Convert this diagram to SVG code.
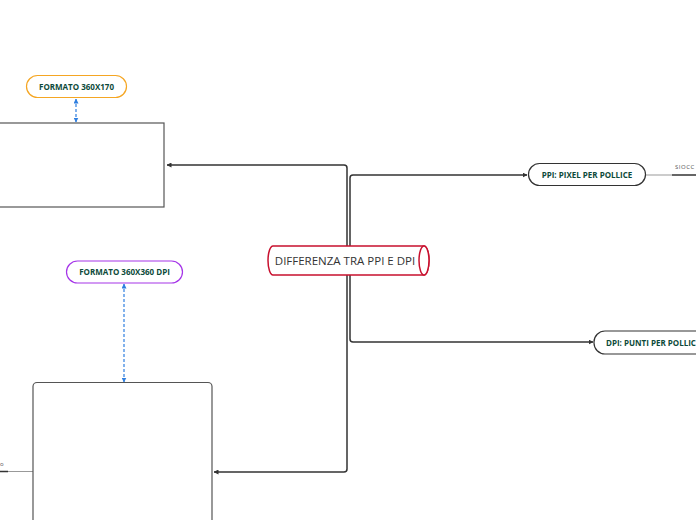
<svg xmlns="http://www.w3.org/2000/svg" width="696" height="520" viewBox="0 0 696 520">
<defs>
<marker id="arr" viewBox="0 0 10 10" refX="9" refY="5" markerWidth="5" markerHeight="5" orient="auto-start-reverse" markerUnits="userSpaceOnUse">
<path d="M0,0 L10,5 L0,10 z" fill="#333"/>
</marker>
<marker id="barr" viewBox="0 0 10 10" refX="9" refY="5" markerWidth="5" markerHeight="5" orient="auto-start-reverse" markerUnits="userSpaceOnUse">
<path d="M0,0 L10,5 L0,10 z" fill="#2f7fe0"/>
</marker>
</defs>
<style>
.conn{fill:none;stroke:#333;stroke-width:1.5}
.dash{fill:none;stroke:#2f7fe0;stroke-width:1.2;stroke-dasharray:3,2}
.lbl{font-family:"Open Sans","Noto Sans",sans-serif;font-weight:bold;font-size:8px;fill:#0d4a3a;text-anchor:middle}
.box{fill:#fff;stroke:#555;stroke-width:1.2}
</style>
<rect width="696" height="520" fill="#fff"/>
<g id="connectors">
<path class="conn" d="M347,260 V168 Q347,165 344,165 H167" marker-end="url(#arr)"/>
<path class="conn" d="M347,260 V469 Q347,472 344,472 H214" marker-end="url(#arr)"/>
<path class="conn" d="M350,260 V178 Q350,175 353,175 H527" marker-end="url(#arr)"/>
<path class="conn" d="M350,260 V339 Q350,342 353,342 H593" marker-end="url(#arr)"/>
<path class="dash" d="M76,99 V122" marker-start="url(#barr)" marker-end="url(#barr)"/>
<path class="dash" d="M124,284 V382" marker-start="url(#barr)" marker-end="url(#barr)"/>
<path d="M646,175 H672" stroke="#999" stroke-width="1" fill="none"/>
<path d="M672,175 H696" stroke="#333" stroke-width="1.5" fill="none"/>
<path d="M8,471.5 H33" stroke="#999" stroke-width="1" fill="none"/>
<path d="M0,471.5 H8" stroke="#333" stroke-width="1.5" fill="none"/>
<text x="675" y="169" font-family="'Open Sans','Noto Sans',sans-serif" font-size="6" fill="#555" letter-spacing="0.5">SIOCC</text>
<text x="0" y="466" font-family="'Open Sans','Noto Sans',sans-serif" font-size="6" fill="#555">o</text>
</g>
<g id="center">
<path d="M273,246 H424 A5,14.5 0 0 1 424,275 H273 A5,14.5 0 0 1 273,246 z" fill="#fff" stroke="#c8102e" stroke-width="1.5"/>
<ellipse cx="424" cy="260.5" rx="5" ry="14.5" fill="#fff" stroke="#c8102e" stroke-width="1.5"/>
<text x="345" y="264.5" font-family="'Open Sans','Noto Sans',sans-serif" font-size="11.5" fill="#333" text-anchor="middle">DIFFERENZA TRA PPI E DPI</text>
</g>
<g id="box-top">
<rect class="box" x="-5" y="123" width="169" height="84"/>
</g>
<g id="formato-360x170">
<rect x="26.5" y="75.5" width="100" height="22" rx="11" fill="#fff" stroke="#f5a623" stroke-width="1.2"/>
<text class="lbl" x="76.5" y="89.5">FORMATO 360X170</text>
</g>
<g id="formato-360x360">
<rect x="66.5" y="261" width="116" height="22" rx="11" fill="#fff" stroke="#a535e8" stroke-width="1.2"/>
<text class="lbl" x="124.5" y="275">FORMATO 360X360 DPI</text>
</g>
<g id="box-bottom">
<rect class="box" x="33" y="382.5" width="179" height="150" rx="4"/>
</g>
<g id="ppi">
<rect x="528.5" y="163.5" width="117" height="22" rx="11" fill="#fff" stroke="#333" stroke-width="1.2"/>
<text class="lbl" x="587" y="177.5">PPI: PIXEL PER POLLICE</text>
</g>
<g id="dpi">
<rect x="594" y="331" width="130" height="23" rx="11" fill="#fff" stroke="#333" stroke-width="1.2"/>
<text class="lbl" x="606" y="345.5" style="text-anchor:start">DPI: PUNTI PER POLLICE</text>
</g>
</svg>
